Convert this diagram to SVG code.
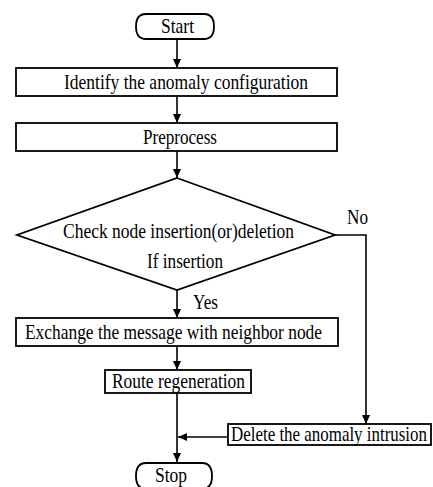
<svg xmlns="http://www.w3.org/2000/svg" width="433" height="487" viewBox="0 0 433 487">
<style>
  .shape { fill: #ffffff; stroke: #000000; stroke-width: 1.8; }
  .conn { fill: none; stroke: #000000; stroke-width: 1.6; }
  text { font-family: "Liberation Serif", "Times New Roman", serif; font-size: 22px; fill: #000000; }
</style>
<defs>
  <marker id="arrow" markerUnits="userSpaceOnUse" markerWidth="10" markerHeight="10" refX="9" refY="4" orient="auto">
    <path d="M0,0 L9,4 L0,8 Z" fill="#000000"/>
  </marker>
</defs>
<rect width="433" height="487" fill="#ffffff"/>
<g id="connectors">
  <line class="conn" x1="177" y1="39" x2="177" y2="68" marker-end="url(#arrow)"/>
  <line class="conn" x1="177" y1="96" x2="177" y2="123" marker-end="url(#arrow)"/>
  <line class="conn" x1="177" y1="151" x2="177" y2="178" marker-end="url(#arrow)"/>
  <line class="conn" x1="177" y1="290" x2="177" y2="318" marker-end="url(#arrow)"/>
  <line class="conn" x1="177" y1="346" x2="177" y2="370" marker-end="url(#arrow)"/>
  <line class="conn" x1="177" y1="393" x2="177" y2="462" marker-end="url(#arrow)"/>
  <path class="conn" d="M335,235 H366 V424" marker-end="url(#arrow)"/>
  <line class="conn" x1="228" y1="437" x2="178" y2="437" marker-end="url(#arrow)"/>
  <text transform="translate(347,224) scale(0.8,1)" textLength="26.25" lengthAdjust="spacingAndGlyphs">No</text>
  <text transform="translate(193,309) scale(0.8,1)" textLength="31.25" lengthAdjust="spacingAndGlyphs">Yes</text>
</g>
<g id="start">
  <path class="shape" d="M146,14 H204 Q214,14 214,26.5 Q214,39 204,39 H146 Q136,39 136,26.5 Q136,14 146,14 Z"/>
  <text transform="translate(161,33) scale(0.8,1)" textLength="41.25" lengthAdjust="spacingAndGlyphs">Start</text>
</g>
<g id="identify">
  <rect class="shape" x="16" y="68" width="321" height="28"/>
  <text transform="translate(64,89) scale(0.8,1)" textLength="305" lengthAdjust="spacingAndGlyphs">Identify the anomaly configuration</text>
</g>
<g id="preprocess">
  <rect class="shape" x="16" y="123" width="321" height="28"/>
  <text transform="translate(143,144) scale(0.8,1)" textLength="92.5" lengthAdjust="spacingAndGlyphs">Preprocess</text>
</g>
<g id="check">
  <polygon class="shape" points="177,178 335,235 177,290 17,235"/>
  <text transform="translate(63,238) scale(0.8,1)" textLength="288.75" lengthAdjust="spacingAndGlyphs">Check node insertion(or)deletion</text>
  <text transform="translate(147,268) scale(0.8,1)" textLength="95" lengthAdjust="spacingAndGlyphs">If insertion</text>
</g>
<g id="exchange">
  <rect class="shape" x="16" y="318" width="322" height="28"/>
  <text transform="translate(25,339) scale(0.8,1)" textLength="371.25" lengthAdjust="spacingAndGlyphs">Exchange the message with neighbor node</text>
</g>
<g id="route">
  <rect class="shape" x="105" y="370" width="146" height="23"/>
  <text transform="translate(112,388) scale(0.8,1)" textLength="166.25" lengthAdjust="spacingAndGlyphs">Route regeneration</text>
</g>
<g id="delete">
  <rect class="shape" x="228" y="424" width="203" height="21"/>
  <text transform="translate(231,441) scale(0.75,1)" textLength="261.3" lengthAdjust="spacingAndGlyphs">Delete the anomaly intrusion</text>
</g>
<g id="stop">
  <path class="shape" d="M146,463 H202 Q212,463 212,476 Q212,489 202,489 H146 Q136,489 136,476 Q136,463 146,463 Z"/>
  <text transform="translate(155,482) scale(0.8,1)" textLength="40" lengthAdjust="spacingAndGlyphs">Stop</text>
</g>
</svg>
